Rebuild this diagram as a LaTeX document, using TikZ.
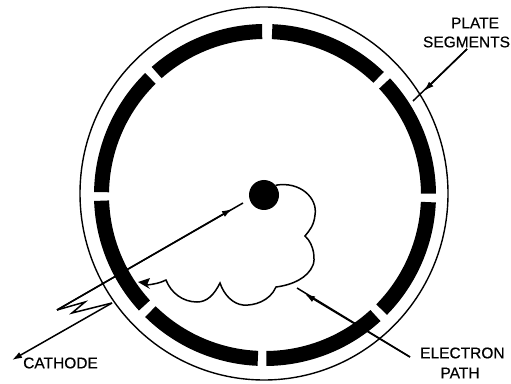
\documentclass[tikz,border=0pt]{standalone}
\usepackage{fontspec}
\setmainfont[FakeBold=0.5]{Liberation Sans}
\usetikzlibrary{arrows.meta}
\tikzset{
  wire/.style={line width=1.5pt,draw=black},
  tipped/.style={wire,-{Latex[length=10pt,width=6.5pt]}},
  lbl/.style={inner sep=0pt,font=\fontsize{15.5}{17}\selectfont,text=black},
  plate/.style={fill=black,draw=none}
}
\newcommand{\plateseg}[2]{%
  \fill[plate] (#1:171) arc[start angle=#1,end angle=#2,radius=171] -- (#2:156)
    arc[start angle=#2,end angle=#1,radius=156] -- cycle;}
\begin{document}
\begin{tikzpicture}[x=1pt,y=1pt]
\useasboundingbox (0,0) rectangle (511,383);
\fill[white] (0,0) rectangle (511,383);
\draw[line width=1.4pt] (264,189.5) ellipse [x radius=184,y radius=186.5];
\begin{scope}[shift={(265,188)}]
\plateseg{91}{131.5}
\plateseg{134.5}{179}
\plateseg{182}{222.5}
\plateseg{225.5}{267.5}
\plateseg{270.5}{312.5}
\plateseg{315.5}{357.5}
\plateseg{0.5}{43}
\plateseg{46}{87.5}
\end{scope}
\node[circle,fill=black,minimum size=30pt,inner sep=0pt] (cath) at (264,188) {};
% electron path
\coordinate (p1) at (305,147);
\coordinate (p2) at (276,96);
\coordinate (p3) at (220,100);
\coordinate (p4) at (166,103);
\coordinate (p5) at (147,98);
\coordinate (p6) at (138,101);
\draw[wire] (cath.40) .. controls (300,202) and (318,185) .. (315,168)
  .. controls (314,158) and (310,153) .. (p1)
  .. controls (315,138) and (315,122) .. (313,118)
  .. controls (308,105) and (292,98) .. (p2)
  .. controls (270,82) and (254,77) .. (243,78)
  .. controls (233,79) and (224,88) .. (p3)
  .. controls (214,88) and (207,81) .. (197,81)
  .. controls (183,81) and (171,90) .. (p4)
  .. controls (160,100) and (155,99) .. (p5);
\fill (p6) -- (150,105) -- (147,98) -- (150,94) -- cycle;
% cathode leader
\coordinate (c0) at (243,180);
\coordinate (c1) at (232,174);
\coordinate (c2) at (57,73);
\coordinate (c3) at (85,81);
\coordinate (c4) at (72,70);
\coordinate (c5) at (112,80);
\coordinate (c7) at (12,23);
\draw[wire] (c2) -- (c0);
\draw[tipped] (c2) -- (c1);
\draw[wire,line join=miter] (c2) -- (c3) -- (c4) -- (c5);
\draw[tipped] (c5) -- (c7);
\node[lbl,anchor=west] (cathlbl) at (23,20) {CATHODE};
% electron label
\node[lbl,anchor=west] (elab) at (420,30) {ELECTRON};
\node[lbl] (plab) at (460,10) {PATH};
\coordinate (e0) at (410,26);
\coordinate (e1) at (305,89);
\coordinate (e2) at (297,95);
\draw[wire] (e0) -- (e2);
\draw[tipped] (e0) -- (e1);
% plate label
\node[lbl] (pl) at (475,360) {PLATE};
\node[lbl] (sg) at (466.5,341) {SEGMENTS};
\coordinate (s0) at (467,334);
\coordinate (s1) at (424,292);
\coordinate (s2) at (413,282);
\draw[wire] (s0) -- (s2);
\draw[tipped] (s0) -- (s1);
\end{tikzpicture}
\end{document}
